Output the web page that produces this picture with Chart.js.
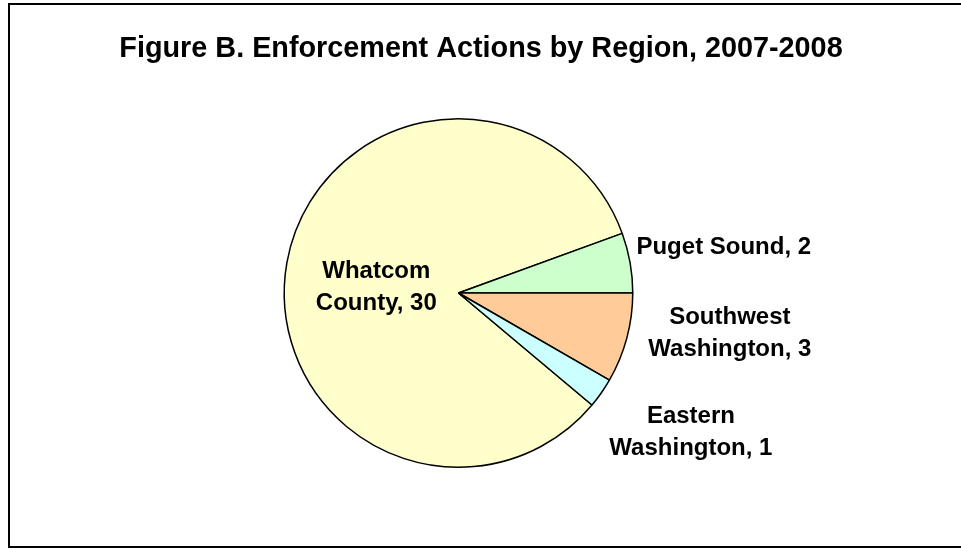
<!DOCTYPE html>
<html>
<head>
<meta charset="utf-8">
<script src="https://cdn.jsdelivr.net/npm/chart.js@4.4.1/dist/chart.umd.min.js"></script>
<style>
  html, body { margin: 0; padding: 0; background: #fff; }
  #wrap { width: 961px; height: 548px; position: relative; }
</style>
</head>
<body>
<div id="wrap"><canvas id="myChart"></canvas></div>
<script>
// chart data
const titleText = "Figure B. Enforcement Actions by Region, 2007-2008";
const regions = ["Whatcom County", "Puget Sound", "Southwest Washington", "Eastern Washington"];
const actions = [30, 2, 3, 1];
const sliceColors = ["#FFFFCC", "#CCFFCC", "#FFCC99", "#CCFFFF"];

// label lines for each slice (text wraps like the original)
const labelLines = [
  ["Whatcom", "County, 30"],
  ["Puget Sound, 2"],
  ["Southwest", "Washington, 3"],
  ["Eastern", "Washington, 1"]
];
// where each label sits: distance as a multiple of radius, and an angle nudge (deg)
const labelPlace = [
  { k: 0.473, nudge: -5.8 },
  { k: 1.545, nudge: 0.2 },
  { k: 1.574, nudge: -6.6 },
  { k: 1.556, nudge: -4 }
];

const FONT = "Liberation Sans, Arial, sans-serif";

// frame + title + slice labels
const decorPlugin = {
  id: "decor",
  beforeDraw(chart) {
    const ctx = chart.ctx;
    ctx.save();
    ctx.strokeStyle = "#000";
    ctx.lineWidth = 2;
    ctx.strokeRect(9, 4, 960, 543);
    ctx.restore();
  },
  afterDraw(chart) {
    const ctx = chart.ctx;
    ctx.save();
    ctx.fillStyle = "#000";
    ctx.textAlign = "center";
    ctx.textBaseline = "middle";
    ctx.font = "bold 28.8px " + FONT;
    ctx.fillText(titleText, 481, 49);

    const meta = chart.getDatasetMeta(0);
    ctx.font = "bold 24px " + FONT;
    meta.data.forEach((arc, i) => {
      const p = arc.getProps(["x", "y", "startAngle", "endAngle", "outerRadius"], true);
      const mid = (p.startAngle + p.endAngle) / 2 + labelPlace[i].nudge * Math.PI / 180;
      const d = p.outerRadius * labelPlace[i].k;
      const cx = p.x + Math.cos(mid) * d;
      const cy = p.y + Math.sin(mid) * d;
      const lines = labelLines[i];
      const lh = 32;
      lines.forEach((t, j) => {
        ctx.fillText(t, cx, cy + (j - (lines.length - 1) / 2) * lh);
      });
    });
    ctx.restore();
  }
};

const data = {
  labels: regions,
  datasets: [{
    data: actions,
    backgroundColor: sliceColors,
    borderColor: "#000",
    borderWidth: 1.5,
    hoverOffset: 0
  }]
};

const config = {
  type: "pie",
  data,
  options: {
    responsive: true,
    maintainAspectRatio: false,
    animation: false,
    rotation: 130,
    layout: { padding: { top: 118, bottom: 80, left: 100, right: 144 } },
    plugins: {
      legend: { display: false },
      tooltip: { enabled: false },
      title: { display: false }
    }
  },
  plugins: [decorPlugin]
};

let myChart = new Chart(document.getElementById("myChart"), config);
</script>
</body>
</html>
